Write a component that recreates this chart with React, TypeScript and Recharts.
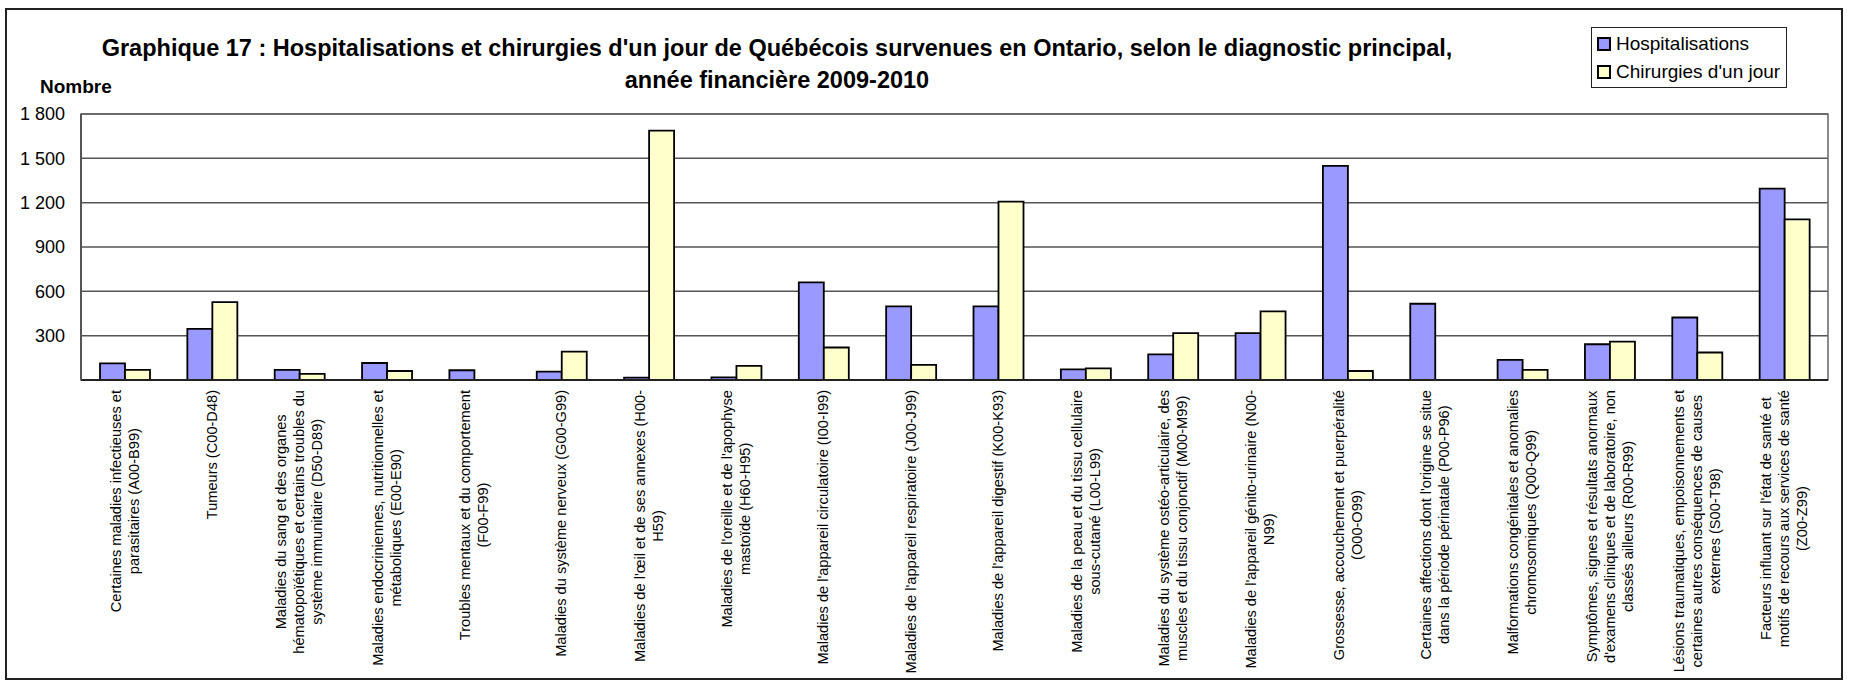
import React from "react";
import {
  BarChart,
  Bar,
  XAxis,
  YAxis,
  CartesianGrid,
  ReferenceArea,
} from "recharts";

const categories = [
  "Certaines maladies infectieuses et\nparasitaires (A00-B99)",
  "Tumeurs (C00-D48)",
  "Maladies du sang et des organes\nhématopoïétiques et certains troubles du\nsystème immunitaire (D50-D89)",
  "Maladies endocriniennes, nutritionnelles et\nmétaboliques (E00-E90)",
  "Troubles mentaux et du comportement\n(F00-F99)",
  "Maladies du système nerveux (G00-G99)",
  "Maladies de l'œil et de ses annexes (H00-\nH59)",
  "Maladies de l'oreille et de l'apophyse\nmastoïde (H60-H95)",
  "Maladies de l'appareil circulatoire (I00-I99)",
  "Maladies de l'appareil respiratoire (J00-J99)",
  "Maladies de l'appareil digestif (K00-K93)",
  "Maladies de la peau et du tissu cellulaire\nsous-cutané (L00-L99)",
  "Maladies du système ostéo-articulaire, des\nmuscles et du tissu conjonctif (M00-M99)",
  "Maladies de l'appareil génito-urinaire (N00-\nN99)",
  "Grossesse, accouchement et puerpéralité\n(O00-O99)",
  "Certaines affections dont l'origine se situe\ndans la période périnatale (P00-P96)",
  "Malformations congénitales et anomalies\nchromosomiques (Q00-Q99)",
  "Symptômes, signes et résultats anormaux\nd'examens cliniques et de laboratoire, non\nclassés ailleurs (R00-R99)",
  "Lésions traumatiques, empoisonnements et\ncertaines autres conséquences de causes\nexternes (S00-T98)",
  "Facteurs influant sur l'état de santé et\nmotifs de recours aux services de santé\n(Z00-Z99)",
];

const hospitalisations = [
  113, 346, 68, 115, 66, 57, 16, 18, 661, 498, 498, 72, 174, 317, 1449, 516,
  136, 242, 423, 1295,
];
const chirurgies = [
  68, 527, 41, 61, 0, 192, 1687, 95, 220, 102, 1207, 79, 317, 464, 61, 0, 68,
  260, 186, 1087,
];

const yTicks = [300, 600, 900, 1200, 1500, 1800];

const titre = [
  "Graphique 17 : Hospitalisations et chirurgies d'un jour de Québécois survenues en Ontario, selon le diagnostic principal,",
  "année financière 2009-2010",
];

const FONT = "'Liberation Sans', Arial, sans-serif";
const BLEU = "#9999FF";
const JAUNE = "#FFFFCC";

const data = categories.map((c, i) => ({
  categorie: c,
  hosp: hospitalisations[i],
  chir: chirurgies[i],
}));

const ctx = document.createElement("canvas").getContext("2d");
const largeur = (s: string) => {
  if (!ctx) return s.length * 7;
  ctx.font = `14.6px ${FONT}`;
  return ctx.measureText(s).width;
};

const formatNombre = (v: number) =>
  String(v).replace(/\B(?=(\d{3})+(?!\d))/g, " ");

const CategorieTick = (props: any) => {
  const { x, y, payload } = props;
  const lignes = String(payload.value).split("\n");
  const w = Math.max(...lignes.map(largeur));
  const cy = y + w / 2;
  return (
    <g>
      {lignes.map((l, i) => {
        const lx = x + (i - (lignes.length - 1) / 2) * 18;
        return (
          <text
            key={i}
            x={lx}
            y={cy}
            transform={`rotate(-90 ${lx} ${cy})`}
            textAnchor="middle"
            dominantBaseline="central"
            fontSize={14.6}
            fontFamily={FONT}
            fill="#000"
          >
            {l}
          </text>
        );
      })}
    </g>
  );
};

const Legende = () => (
  <div
    style={{
      position: "absolute",
      left: 1591,
      top: 27,
      width: 194,
      height: 59,
      border: "1px solid #222",
      fontFamily: FONT,
      fontSize: 19,
      background: "#fff",
    }}
  >
    {[
      ["Hospitalisations", BLEU],
      ["Chirurgies d'un jour", JAUNE],
    ].map(([nom, couleur], i) => (
      <div
        key={nom}
        style={{
          position: "absolute",
          left: 5,
          top: 4 + i * 28,
          height: 24,
          display: "flex",
          alignItems: "center",
          whiteSpace: "nowrap",
        }}
      >
        <span
          style={{
            display: "inline-block",
            width: 10,
            height: 10,
            border: "2px solid #000",
            background: couleur,
            marginRight: 5,
          }}
        />
        {nom}
      </div>
    ))}
  </div>
);

export default function App() {
  return (
    <div
      style={{
        position: "absolute",
        left: 0,
        top: 0,
        width: 1849,
        height: 682,
        background: "#fff",
        fontFamily: FONT,
      }}
    >
      <div
        style={{
          position: "absolute",
          left: 5,
          top: 8,
          width: 1834,
          height: 668,
          border: "2px solid #222",
        }}
      />
      <div
        style={{
          position: "absolute",
          left: 0,
          top: 32,
          width: 1554,
          textAlign: "center",
          fontWeight: "bold",
          fontSize: 23.5,
          lineHeight: "32px",
          whiteSpace: "nowrap",
        }}
      >
        {titre.map((t) => (
          <div key={t}>{t}</div>
        ))}
      </div>
      <div
        style={{
          position: "absolute",
          left: 40,
          top: 76,
          fontWeight: "bold",
          fontSize: 19,
        }}
      >
        Nombre
      </div>
      <Legende />
      <div style={{ position: "absolute", left: 0, top: 0 }}>
        <BarChart
          width={1849}
          height={682}
          data={data}
          margin={{ top: 114, right: 21, left: 0, bottom: 0 }}
          barGap={0}
          barSize={25}
        >
          <CartesianGrid
            vertical={false}
            stroke="#555"
            strokeWidth={1.5}
          />
          <ReferenceArea
            y1={0}
            y2={1800}
            fill="none"
            stroke="#666"
            strokeWidth={1.5}
          />
          <XAxis
            dataKey="categorie"
            interval={0}
            height={302}
            tickLine={false}
            tickSize={0}
            tickMargin={10}
            axisLine={{ stroke: "#222", strokeWidth: 2 }}
            tick={<CategorieTick />}
          />
          <YAxis
            width={81}
            domain={[0, 1800]}
            ticks={yTicks}
            tickLine={false}
            tickSize={0}
            tickMargin={16}
            axisLine={{ stroke: "#555", strokeWidth: 2 }}
            tickFormatter={formatNombre}
            tick={{ fill: "#000", fontSize: 18, fontFamily: FONT }}
          />
          <Bar
            dataKey="hosp"
            fill={BLEU}
            stroke="#000"
            strokeWidth={1.8}
            isAnimationActive={false}
          />
          <Bar
            dataKey="chir"
            fill={JAUNE}
            stroke="#000"
            strokeWidth={1.8}
            isAnimationActive={false}
          />
        </BarChart>
      </div>
    </div>
  );
}
